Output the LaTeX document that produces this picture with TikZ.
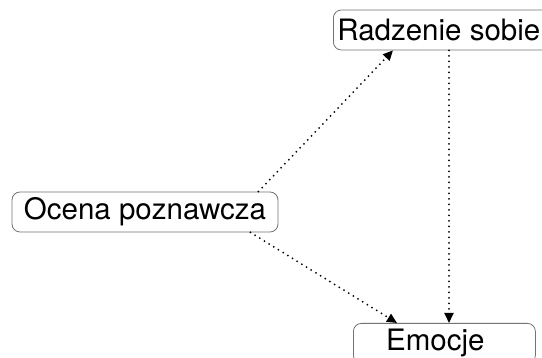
\documentclass[tikz,border=0pt]{standalone}
\usepackage{fontspec}
\setmainfont{TeX Gyre Heros}
\usepackage{tikz}
\usetikzlibrary{positioning,arrows.meta}
\tikzstyle{concept}=[rectangle,rounded corners=8pt,draw=black!55,line width=0.8pt,fill=white,minimum height=40pt,inner xsep=4pt,font=\fontsize{29.5}{31}\selectfont]
\tikzstyle{mypath}=[line width=2pt,line cap=round,dash pattern=on 0pt off 5.5pt,-{Triangle[width=9pt,length=10pt]}]

\begin{document}
\begin{tikzpicture}[x=1pt,y=1pt]
                \useasboundingbox (0,0) rectangle (542,358);

                \node[concept,anchor=west,minimum width=240pt] (rad) at (333,328) {Radzenie sobie\hspace*{34pt}};
                \node[concept,minimum width=266pt] (oce) at (145,146) {Ocena poznawcza};
                \node[concept,anchor=north west,minimum width=182pt] (emo) at (353,35) {Emocje\hspace*{18pt}};

                \draw[mypath] ([xshift=-20pt]oce.north east) -- ([xshift=60pt]rad.south west);
                \draw[mypath] ([xshift=-28pt]oce.south east) -- ([xshift=44pt]emo.north west);
                \draw[mypath] ([xshift=116pt]rad.south west) -- ([xshift=96pt]emo.north west);
\end{tikzpicture}
\end{document}
